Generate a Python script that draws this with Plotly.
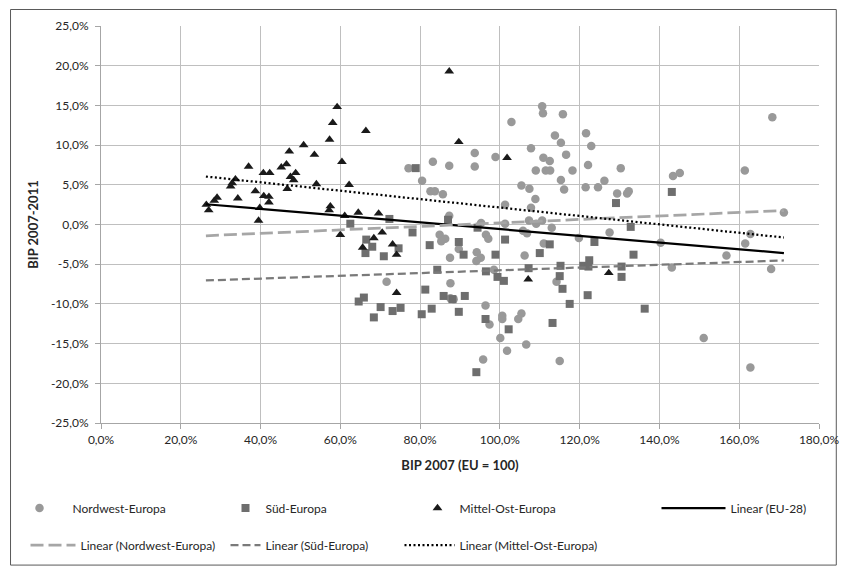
import plotly.graph_objects as go

# ---------------- data (percent) ----------------
nw_x = [77.1, 83.2, 87.3, 93.7, 93.7, 98.9, 80.5, 82.6, 83.7, 85.7,
        102.9, 110.6, 110.8, 115.8, 107.8, 113.8, 115.3, 110.9, 112.5, 116.6,
        109.0, 111.5, 112.6, 118.2, 115.3, 105.4, 107.4, 116.1, 121.6, 122.9,
        122.1, 126.2, 124.6, 121.5, 130.3, 129.4, 131.9, 132.3, 108.9, 101.3,
        107.8, 87.3, 107.3, 109.1, 110.6, 101.3, 95.3, 113.0, 105.8, 106.8,
        119.8, 127.5, 84.9, 86.3, 85.3, 96.5, 97.1, 111.0, 87.5, 89.7,
        94.2, 95.2, 94.1, 106.2, 98.5, 114.2, 71.6, 87.6, 87.6, 88.4,
        96.4, 97.4, 100.6, 100.6, 105.4, 104.6, 100.1, 101.8, 106.6, 95.8,
        115.0, 168.3, 161.4, 143.4, 145.1, 171.2, 162.8, 140.3, 161.5, 156.8,
        143.1, 168.0, 151.1, 162.8]
nw_y = [7.1, 7.9, 7.4, 9.0, 7.3, 8.5, 5.5, 4.2, 4.2, 3.8,
        12.9, 14.9, 14.0, 13.9, 9.6, 11.2, 10.3, 8.4, 8.0, 8.8,
        6.8, 6.8, 6.8, 6.8, 5.6, 4.9, 4.5, 4.4, 11.5, 9.9,
        7.5, 5.5, 4.7, 4.7, 7.1, 3.9, 3.9, 4.2, 3.2, 2.5,
        2.1, 1.1, 0.5, 0.1, 0.5, 0.1, 0.2, -0.4, -0.8, -1.1,
        -1.7, -1.0, -1.3, -1.8, -2.1, -1.3, -1.8, -2.4, -4.2, -3.1,
        -3.5, -4.2, -4.6, -3.9, -5.7, -7.2, -7.2, -7.4, -9.3, -9.4,
        -10.2, -12.6, -11.5, -11.9, -11.2, -11.9, -14.3, -15.9, -15.1, -17.0,
        -17.2, 13.5, 6.8, 6.1, 6.5, 1.5, -1.2, -2.3, -2.4, -3.9,
        -5.4, -5.6, -14.3, -18.0]

sud_x = [78.9, 72.3, 62.5, 78.1, 87.0, 94.4, 66.5, 68.0, 66.3, 70.9,
         74.6, 82.4, 89.7, 90.9, 98.9, 101.3, 110.0, 112.5, 123.7, 129.1,
         122.4, 120.9, 122.2, 130.5, 130.5, 84.3, 96.5, 99.4, 101.0, 107.2,
         115.2, 115.0, 115.7, 122.0, 117.5, 113.2, 81.3, 85.9, 88.1, 91.2,
         64.6, 65.9, 70.1, 68.4, 73.1, 75.1, 80.4, 82.9, 89.7, 96.4,
         102.2, 94.1, 143.1, 132.8, 133.5, 136.3]
sud_y = [7.1, 0.7, 0.1, -1.0, 0.6, -0.4, -1.9, -2.8, -3.6, -4.0,
         -3.0, -2.6, -2.2, -3.8, -3.8, -1.9, -3.6, -2.5, -2.2, 2.7,
         -4.5, -5.2, -5.3, -5.3, -6.6, -5.7, -5.9, -6.6, -7.1, -5.5,
         -5.2, -6.5, -8.1, -8.9, -10.0, -12.4, -8.2, -9.0, -9.4, -9.0,
         -9.7, -9.2, -10.4, -11.7, -10.9, -10.5, -11.3, -10.6, -11.0, -11.9,
         -13.2, -18.6, 4.1, -0.3, -3.8, -10.6]

moe_x = [26.4, 27.0, 28.4, 29.1, 32.5, 32.9, 33.7, 34.3, 37.0, 38.7,
         39.8, 39.5, 40.7, 42.3, 40.8, 42.1, 42.1, 45.2, 46.5, 47.2,
         47.5, 48.3, 48.8, 46.7, 50.8, 53.5, 54.0, 57.3, 58.1, 59.2,
         57.5, 57.2, 60.4, 62.2, 61.1, 60.0, 66.4, 64.5, 69.6, 68.4,
         70.5, 65.6, 73.1, 74.1, 74.1, 87.3, 89.7, 101.8, 107.1, 127.3]
moe_y = [2.5, 1.8, 3.0, 3.4, 4.8, 5.2, 5.7, 3.3, 7.3, 4.2,
         2.1, 0.5, 6.5, 6.5, 3.6, 3.5, 2.8, 7.2, 7.6, 9.2,
         6.0, 5.6, 6.5, 4.5, 10.0, 8.8, 5.1, 10.7, 12.8, 14.8,
         2.3, 1.8, 7.9, 5.0, 1.1, -1.3, 11.8, 1.5, 1.4, -1.7,
         -1.0, -2.9, -2.5, -3.8, -8.6, 19.3, 10.4, 8.4, -6.9, -6.1]

# linear trend lines (value at start / end of x-range)
trend_x = [26.3, 171.2]
trend_eu = [2.55, -3.6]
trend_nw = [-1.42, 1.76]
trend_sud = [-7.05, -4.53]
trend_moe = [6.04, -1.64]

series_names = ["Nordwest-Europa", "Süd-Europa", "Mittel-Ost-Europa"]
trend_names = ["Linear (EU-28)", "Linear (Nordwest-Europa)",
               "Linear (Süd-Europa)", "Linear (Mittel-Ost-Europa)"]
x_ticks = list(range(0, 181, 20))
y_ticks = list(range(-25, 26, 5))


def pct_label(v):
    return f"{v:.1f}%".replace(".", ",")


# ---------------- figure geometry ----------------
W, H = 846, 567
L, R, T, B = 100.5, 27.3, 26.0, 143.7
PW, PH = W - L - R, H - T - B
FONT = "Lato"
TXT = "#262626"


def px_x(p):
    return (p - L) / PW


def px_y(p):
    return (H - B - p) / PH


fig = go.Figure()

fig.add_trace(go.Scatter(x=nw_x, y=nw_y, mode="markers", name=series_names[0],
                         marker=dict(symbol="circle", size=8.5, color="#999999"),
                         legend="legend"))
fig.add_trace(go.Scatter(x=sud_x, y=sud_y, mode="markers", name=series_names[1],
                         marker=dict(symbol="square", size=8, color="#6e6e6e"),
                         legend="legend2"))
fig.add_trace(go.Scatter(x=moe_x, y=moe_y, mode="markers", name=series_names[2],
                         marker=dict(symbol="triangle-up", size=8.5, color="#1a1a1a"),
                         legend="legend3"))

fig.add_trace(go.Scatter(x=trend_x, y=trend_eu, mode="lines", name=trend_names[0],
                         line=dict(color="#000000", width=2.25), legend="legend4"))
fig.add_trace(go.Scatter(x=trend_x, y=trend_nw, mode="lines", name=trend_names[1],
                         line=dict(color="#a6a6a6", width=2.75, dash="13px,5px"),
                         legend="legend5"))
fig.add_trace(go.Scatter(x=trend_x, y=trend_sud, mode="lines", name=trend_names[2],
                         line=dict(color="#7a7a7a", width=2.25, dash="8px,4px"),
                         legend="legend6"))
fig.add_trace(go.Scatter(x=trend_x, y=trend_moe, mode="lines", name=trend_names[3],
                         line=dict(color="#000000", width=2.25, dash="2px,2.5px"),
                         legend="legend7"))

# legends: (text start px, row centre px, item width) -- container coordinates
leg_pos = {
    "legend": (75, 508, 56),
    "legend2": (268, 508, 30),
    "legend3": (462, 508, 34),
    "legend4": (733, 508, 64),
    "legend5": (83, 545, 45),
    "legend6": (268, 545, 30),
    "legend7": (462, 545, 50),
}
leg_layout = {}
for key, (tx, ty, iw) in leg_pos.items():
    leg_layout[key] = dict(
        xref="container", yref="container",
        x=(tx - iw - 12.5) / W, y=1 - ty / H, xanchor="left", yanchor="middle",
        orientation="h", itemwidth=iw, bgcolor="rgba(0,0,0,0)",
        font=dict(family=FONT, size=12, color=TXT),
        itemclick=False, itemdoubleclick=False,
    )

fig.update_layout(
    width=W, height=H,
    margin=dict(l=L, r=R, t=T, b=B, pad=0),
    paper_bgcolor="white", plot_bgcolor="white",
    font=dict(family=FONT, size=12, color=TXT),
    showlegend=True,
    **leg_layout,
    shapes=[dict(type="rect", xref="paper", yref="paper",
                 x0=px_x(10), x1=px_x(836), y0=px_y(565.5), y1=px_y(9.5),
                 line=dict(color="#5a5a5a", width=1), fillcolor="rgba(0,0,0,0)",
                 layer="below")],
)

fig.update_xaxes(
    range=[0, 180], tickvals=x_ticks, ticktext=[pct_label(v) for v in x_ticks],
    showgrid=True, gridcolor="#bfbfbf", gridwidth=1, zeroline=False,
    showline=True, linecolor="#a6a6a6", linewidth=1, automargin=False,
    ticks="outside", ticklen=5, tickcolor="#a6a6a6", ticklabelstandoff=1,
    tickfont=dict(family=FONT, size=12, color=TXT),
    title=dict(text="<b>BIP 2007 (EU = 100)</b>", standoff=14,
               font=dict(family=FONT, size=13, color=TXT)),
)
fig.update_yaxes(
    range=[-25, 25], tickvals=y_ticks, ticktext=[pct_label(v) for v in y_ticks],
    showgrid=True, gridcolor="#bfbfbf", gridwidth=1, zeroline=False,
    showline=True, linecolor="#a6a6a6", linewidth=1, automargin=False,
    ticks="outside", ticklen=5, tickcolor="#a6a6a6", ticklabelstandoff=4,
    tickfont=dict(family=FONT, size=12, color=TXT),
    title=dict(text="<b>BIP 2007-2011</b>", standoff=9,
               font=dict(family=FONT, size=13, color=TXT)),
)

fig.write_html("out.html", config={"displayModeBar": False},
               post_script="document.body.style.margin='0';")
